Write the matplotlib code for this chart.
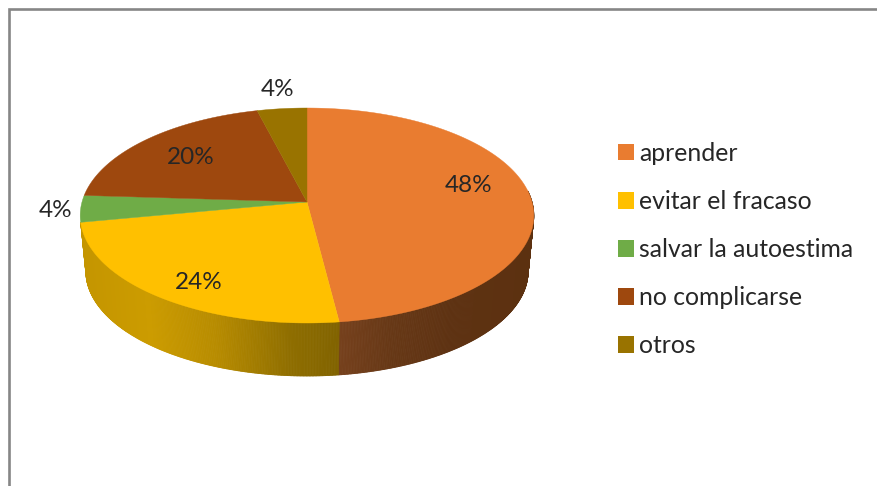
import numpy as np
import matplotlib
matplotlib.use("Agg")
import matplotlib.pyplot as plt
from matplotlib.collections import PolyCollection
from matplotlib.colors import to_rgb
from matplotlib.patches import Patch

# Survey shares, in percent
categories = ["aprender", "evitar el fracaso", "salvar la autoestima", "no complicarse", "otros"]
shares = [48, 24, 4, 20, 4]
face_colors = ["#E97C30", "#FFC000", "#6FAC47", "#9E480E", "#997300"]

# Horizontal shading of the visible side wall: (pixel x, colour)
wall_shading = {
    "aprender": [(342, "#75401C"), (390, "#673816"), (450, "#5E3212"), (535, "#5C3110")],
    "evitar el fracaso": [(80, "#C49500"), (150, "#CC9C00"), (215, "#B88C00"), (290, "#8F6E00"), (342, "#806200")],
}

plt.rcParams["font.family"] = ["Lato", "DejaVu Sans"]
TEXT = "#262626"
W, H = 877, 486
fig = plt.figure(figsize=(W / 100, H / 100), dpi=100)
ax = fig.add_axes([0, 0, 1, 1])
ax.set_xlim(0, W)
ax.set_ylim(H, 0)
ax.axis("off")

# Perspective view of the disc
CX, CY = 307, 202
A, B, K = 225.0, 105.8, 0.1256
LOWER_SCALE, LOWER_DROP = 0.975, 56.0


def rim(theta_deg, lower=False):
    """Screen position of a rim point; theta runs clockwise from the top."""
    t = np.radians(theta_deg)
    toward = -np.cos(t)
    d = 1 - K * toward
    x, y = A * np.sin(t) / d, B * toward / d
    if lower:
        return CX + LOWER_SCALE * x, CY + LOWER_SCALE * y + LOWER_DROP
    return CX + x, CY + y


edges = np.concatenate([[0], np.cumsum(shares)]) * 3.6
WALL_FROM, WALL_TO = 84.0, 262.0

# Side walls first, so the top faces overlap their upper edge
for name, start, stop in zip(categories, edges[:-1], edges[1:]):
    if name not in wall_shading:
        continue
    lo, hi = max(start, WALL_FROM), min(stop, WALL_TO)
    th = np.linspace(lo, hi, 260)
    xt, yt = rim(th)
    xb, yb = rim(th, lower=True)
    stops = wall_shading[name]
    sx = [s[0] for s in stops]
    rgb = np.array([to_rgb(s[1]) for s in stops])
    quads, cols = [], []
    for i in range(len(th) - 1):
        quads.append([(xt[i], yt[i]), (xt[i + 1], yt[i + 1]), (xb[i + 1], yb[i + 1]), (xb[i], yb[i])])
        xm = (xt[i] + xt[i + 1] + xb[i] + xb[i + 1]) / 4
        cols.append([np.interp(xm, sx, rgb[:, c]) for c in range(3)])
    ax.add_collection(PolyCollection(quads, facecolors=cols, edgecolors=cols, linewidths=0.6, zorder=2))

# Top faces
handles = []
for name, start, stop, color in zip(categories, edges[:-1], edges[1:], face_colors):
    th = np.linspace(start, stop, 200)
    x, y = rim(th)
    ax.fill(np.r_[CX, x], np.r_[CY, y], color=color, lw=0.3, zorder=3)
    handles.append(Patch(facecolor=color, edgecolor="none", label=name))

# Value labels
label_positions = [(469, 185), (199, 282), (56, 210), (191, 157), (278, 90)]
for value, (lx, ly) in zip(shares, label_positions):
    ax.text(lx, ly, f"{value}%", ha="center", va="center", fontsize=17.5, color=TEXT, zorder=5)

# Legend
ax.legend(handles=handles, loc="upper left", bbox_to_anchor=(611 / W, 1 - 134.5 / H), frameon=False,
          fontsize=17.8, labelcolor=TEXT, handlelength=0.65, handleheight=0.65, handletextpad=0.2,
          labelspacing=1.015, borderpad=0.3, borderaxespad=0)

# Chart border, open at the right and bottom
ax.plot([8.5, 8.5, W], [H, 9.5, 9.5], color="#868686", lw=1.9, solid_joinstyle="miter", zorder=6)

fig.savefig("out.png", dpi=100, facecolor="white")
